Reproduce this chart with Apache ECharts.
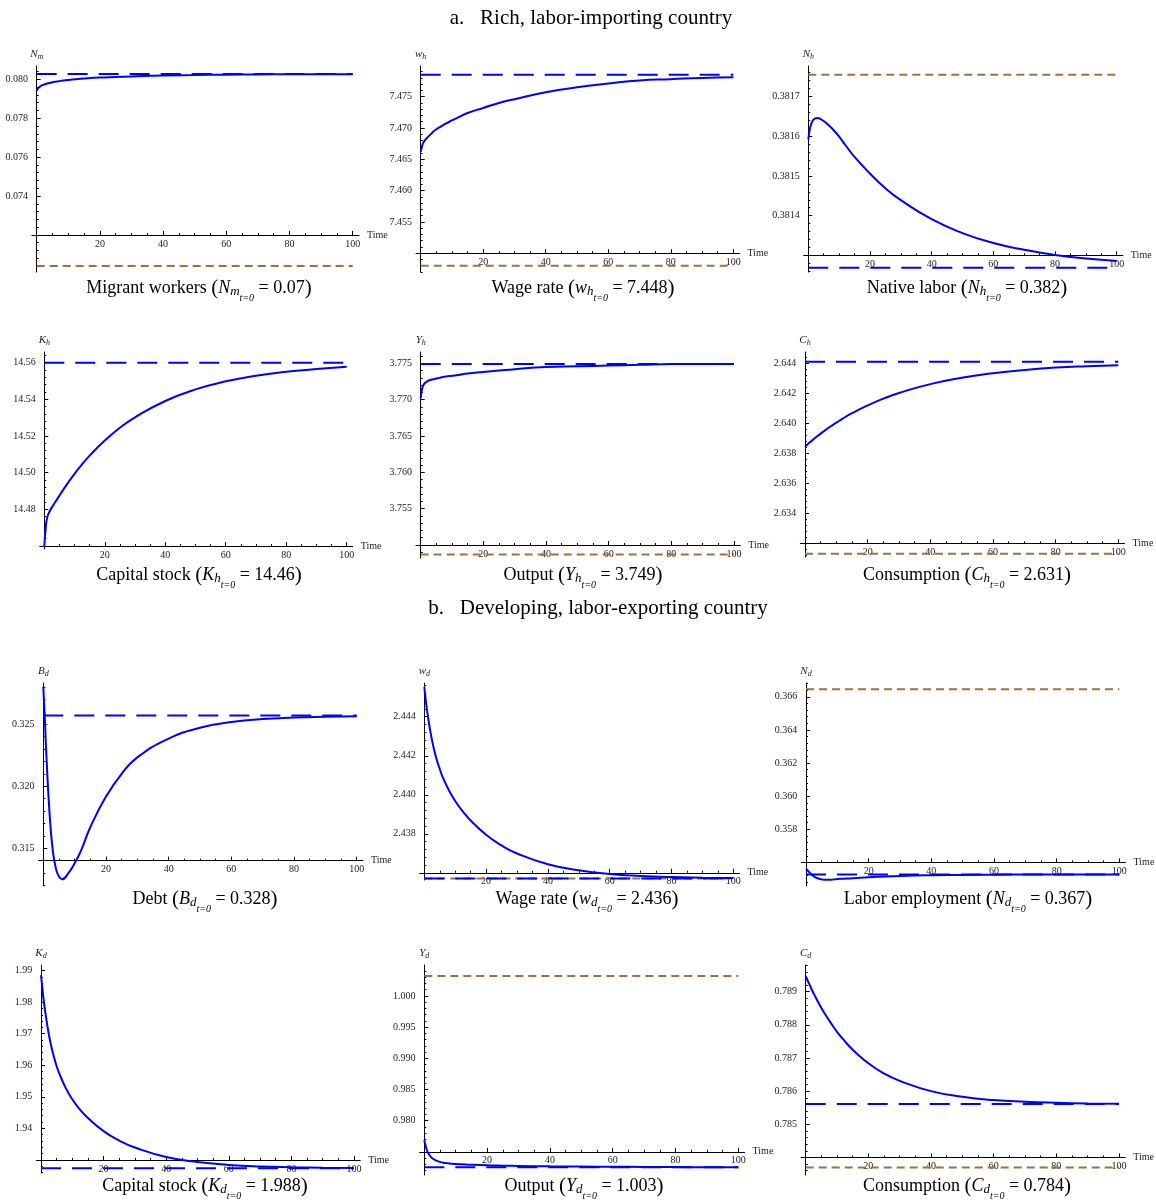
<!DOCTYPE html>
<html>
<head>
<meta charset="utf-8">
<script src="https://cdn.jsdelivr.net/npm/echarts@6/dist/echarts.min.js"></script>
<style>
  html, body { margin: 0; padding: 0; background: #fff; }
  #chart { width: 1156px; height: 1201px; }
</style>
</head>
<body>
<div id="chart"></div>
<script>
  /******************/
  //region    //data

  // common time grid for every transition path
  const time = [0, 0.5, 1, 2, 3, 4, 5, 6, 8, 10, 12, 15, 20, 25, 30, 40, 50, 60, 70, 80, 90, 100];
  const xTicks = [20, 40, 60, 80, 100];

  // a. rich, labor-importing country
  const nmPath = [0.07942, 0.07955, 0.07962, 0.07971, 0.07977, 0.07981, 0.07985, 0.07988, 0.07993, 0.07997, 0.08000, 0.08004, 0.08009, 0.08012, 0.08015, 0.08020, 0.08022, 0.08024, 0.08025, 0.08026, 0.08026, 0.08026];
  const whPath = [7.4662, 7.4672, 7.4678, 7.4684, 7.4689, 7.4694, 7.4698, 7.4701, 7.4707, 7.4712, 7.4717, 7.4724, 7.4732, 7.4740, 7.4746, 7.4757, 7.4765, 7.4771, 7.4776, 7.4778, 7.4780, 7.4781];
  const nhPath = [0.381592, 0.381618, 0.381632, 0.381644, 0.381646, 0.381643, 0.381638, 0.381632, 0.381617, 0.381599, 0.381578, 0.381548, 0.381506, 0.381469, 0.381439, 0.381391, 0.381356, 0.381331, 0.381314, 0.381301, 0.381292, 0.381286];
  const khPath = [14.4596, 14.4705, 14.4758, 14.4797, 14.4824, 14.4850, 14.4875, 14.4901, 14.4949, 14.4994, 14.5036, 14.5093, 14.5175, 14.5245, 14.5302, 14.5391, 14.5454, 14.5498, 14.5528, 14.5550, 14.5565, 14.5578];
  const yhPath = [3.7702, 3.7716, 3.7721, 3.7725, 3.7727, 3.7728, 3.7729, 3.7730, 3.7732, 3.7733, 3.7734, 3.7736, 3.7738, 3.7740, 3.7742, 3.7745, 3.7746, 3.7747, 3.7748, 3.7749, 3.7749, 3.7749];
  const chPath = [2.63844, 2.63853, 2.63863, 2.63881, 2.63898, 2.63915, 2.63931, 2.63947, 2.63977, 2.64004, 2.64031, 2.64067, 2.64119, 2.64164, 2.64202, 2.64261, 2.64303, 2.64333, 2.64355, 2.64371, 2.64380, 2.64386];

  // b. developing, labor-exporting country
  const bdPath = [0.32804, 0.32535, 0.32240, 0.31782, 0.31487, 0.31339, 0.31272, 0.31250, 0.31300, 0.31380, 0.31480, 0.31670, 0.31917, 0.32101, 0.32233, 0.32385, 0.32472, 0.32518, 0.32543, 0.32554, 0.32560, 0.32564];
  const wdPath = [2.44553, 2.44481, 2.44420, 2.44321, 2.44243, 2.44181, 2.44132, 2.44089, 2.44022, 2.43968, 2.43924, 2.43868, 2.43795, 2.43740, 2.43699, 2.43644, 2.43613, 2.43594, 2.43584, 2.43578, 2.43575, 2.43573];
  const ndPath = [0.35562, 0.35552, 0.35542, 0.35524, 0.35510, 0.35503, 0.35498, 0.35495, 0.35496, 0.35500, 0.35502, 0.35505, 0.35511, 0.35515, 0.35519, 0.35523, 0.35525, 0.35526, 0.35527, 0.35527, 0.35527, 0.35527];
  const kdPath = [1.98861, 1.98381, 1.97951, 1.97271, 1.96731, 1.96321, 1.95971, 1.95701, 1.95261, 1.94921, 1.94651, 1.94331, 1.93911, 1.93611, 1.93391, 1.93091, 1.92931, 1.92841, 1.92791, 1.92766, 1.92751, 1.92741];
  const ydPath = [0.97690, 0.97583, 0.97503, 0.97422, 0.97380, 0.97355, 0.97337, 0.97325, 0.97313, 0.97305, 0.97300, 0.97292, 0.97283, 0.97278, 0.97274, 0.97267, 0.97263, 0.97260, 0.97257, 0.97255, 0.97253, 0.97251];
  const cdPath = [0.78947, 0.78936, 0.78926, 0.78905, 0.78886, 0.78868, 0.78851, 0.78835, 0.78806, 0.78779, 0.78756, 0.78725, 0.78684, 0.78653, 0.78631, 0.78600, 0.78583, 0.78573, 0.78568, 0.78565, 0.78563, 0.78562];

  // blue long-dashed = new steady state, brown short-dashed = initial level (null = not drawn)
  const steadyState = [0.08027, 7.4785, 0.381269, 14.560, 3.7749, 2.6441, 0.3257, 2.43571, 0.35527, 1.92731, 0.97251, 0.78561];
  const initialLevel = [0.0704, 7.448, 0.381755, null, 3.7487, 2.6313, null, 2.43571, 0.36646, null, 1.00321, 0.7837];

  const yTickLabels = [
    ['0.074', '0.076', '0.078', '0.080'],
    ['7.455', '7.460', '7.465', '7.470', '7.475'],
    ['0.3814', '0.3815', '0.3816', '0.3817'],
    ['14.48', '14.50', '14.52', '14.54', '14.56'],
    ['3.755', '3.760', '3.765', '3.770', '3.775'],
    ['2.634', '2.636', '2.638', '2.640', '2.642', '2.644'],
    ['0.315', '0.320', '0.325'],
    ['2.438', '2.440', '2.442', '2.444'],
    ['0.358', '0.360', '0.362', '0.364', '0.366'],
    ['1.94', '1.95', '1.96', '1.97', '1.98', '1.99'],
    ['0.980', '0.985', '0.990', '0.995', '1.000'],
    ['0.785', '0.786', '0.787', '0.788', '0.789']
  ];

  //endregion

  /******************/
  //region    //layout

  // x0/x100: pixel of t=0 / t=100, top/bottom: y-axis extent, cross: where the time axis sits
  let panels = [
    {path: nmPath, sym: 'N', sub: 'm', name: 'Migrant workers', init: '0.07', x0: 36.7, x100: 352.7, top: 66, bottom: 272, yMin: 0.070093, yMax: 0.080684, cross: 0.072, capX: 199},
    {path: whPath, sym: 'w', sub: 'h', name: 'Wage rate', init: '7.448', x0: 420.7, x100: 733.3, top: 66, bottom: 272, yMin: 7.4470, yMax: 7.4799, cross: 7.450, capX: 583},
    {path: nhPath, sym: 'N', sub: 'h', name: 'Native labor', init: '0.382', x0: 808.3, x100: 1116.7, top: 66, bottom: 272, yMin: 0.381258, yMax: 0.381777, cross: 0.3813, capX: 967},
    {path: khPath, sym: 'K', sub: 'h', name: 'Capital stock', init: '14.46', x0: 44.3, x100: 346.7, top: 352, bottom: 549, yMin: 14.4584, yMax: 14.5658, cross: 14.46, capX: 199},
    {path: yhPath, sym: 'Y', sub: 'h', name: 'Output', init: '3.749', x0: 420.7, x100: 734, top: 352, bottom: 558, yMin: 3.74821, yMax: 3.77656, cross: 3.750, capX: 583},
    {path: chPath, sym: 'C', sub: 'h', name: 'Consumption', init: '2.631', x0: 805, x100: 1118.3, top: 352, bottom: 557, yMin: 2.63109, yMax: 2.64475, cross: 2.632, capX: 967},
    {path: bdPath, sym: 'B', sub: 'd', name: 'Debt', init: '0.328', x0: 43.3, x100: 356.7, top: 683, bottom: 886, yMin: 0.31196, yMax: 0.32833, cross: 0.314, capX: 205},
    {path: wdPath, sym: 'w', sub: 'd', name: 'Wage rate', init: '2.436', x0: 424.3, x100: 733.3, top: 683, bottom: 880, yMin: 2.43563, yMax: 2.44573, cross: 2.436, capX: 587},
    {path: ndPath, sym: 'N', sub: 'd', name: 'Labor employment', init: '0.367', x0: 806, x100: 1119.3, top: 683, bottom: 886, yMin: 0.35458, yMax: 0.36683, cross: 0.356, capX: 968},
    {path: kdPath, sym: 'K', sub: 'd', name: 'Capital stock', init: '1.988', x0: 41, x100: 354, top: 965, bottom: 1173, yMin: 1.92584, yMax: 1.9918, cross: 1.93, capX: 205},
    {path: ydPath, sym: 'Y', sub: 'd', name: 'Output', init: '1.003', x0: 424.3, x100: 738.3, top: 965, bottom: 1175, yMin: 0.97128, yMax: 1.00497, cross: 0.975, capX: 584},
    {path: cdPath, sym: 'C', sub: 'd', name: 'Consumption', init: '0.784', x0: 805.7, x100: 1119, top: 965, bottom: 1175, yMin: 0.78347, yMax: 0.789805, cross: 0.784, capX: 967}
  ];

  const captionY = [288, 575, 899, 1186];

  //endregion

  /******************/
  //region    //function

  const FONT = '"Liberation Serif", "Times New Roman", serif';
  const BLUE = '#0000ff';
  const BROWN = '#a2703c';
  const INK = '#222';

  function multiples(lo, hi, step) {
    let out = [];
    for (let k = Math.ceil(lo / step - 1e-9); k * step <= hi + step * 1e-6; k++) {
      out.push(Math.round(k * step * 1e10) / 1e10);
    }
    return out;
  }

  let grids = [], xAxis = [], yAxis = [], series = [], graphic = [];
  const xMin = -1.5, xMax = 102;

  panels.forEach((p, i) => {
    let ppu = (p.x100 - p.x0) / 100;
    let h = p.bottom - p.top;
    grids.push({left: p.x0 + xMin * ppu, top: p.top, width: (xMax - xMin) * ppu, height: h});

    // time axis sits at the crossing value, not at the bottom of the range
    let off = -(p.cross - p.yMin) / (p.yMax - p.yMin) * h;
    let labels = yTickLabels[i];
    let vals = labels.map(Number);
    let dec = labels[0].split('.')[1].length;
    let step = Math.round((vals[1] - vals[0]) * 1e10) / 1e10;

    xAxis.push({
      type: 'value', gridIndex: i, min: xMin, max: xMax, position: 'bottom', offset: off,
      axisLine: {onZero: false, lineStyle: {color: '#000', width: 1}},
      axisTick: {inside: true, length: 4, customValues: multiples(0, 100, 20), lineStyle: {color: '#000'}},
      axisLabel: {customValues: xTicks, fontFamily: FONT, fontSize: 10, color: INK, margin: 4},
      splitLine: {show: false},
      name: 'Time', nameLocation: 'end', nameGap: 8,
      nameTextStyle: {fontFamily: FONT, fontSize: 10, color: INK}
    });
    xAxis.push({
      type: 'value', gridIndex: i, min: xMin, max: xMax, position: 'bottom', offset: off,
      axisLine: {show: false, onZero: false},
      axisTick: {inside: true, length: 2, customValues: multiples(0, 100, 5), lineStyle: {color: '#000'}},
      axisLabel: {show: false},
      splitLine: {show: false}
    });

    yAxis.push({
      type: 'value', gridIndex: i, min: p.yMin, max: p.yMax, position: 'left',
      axisLine: {show: true, onZero: true, lineStyle: {color: '#000', width: 1}},
      axisTick: {inside: true, length: 4, customValues: multiples(p.yMin, p.yMax, step), lineStyle: {color: '#000'}},
      axisLabel: {customValues: vals, formatter: v => v.toFixed(dec), fontFamily: FONT, fontSize: 10, color: INK, margin: 4},
      splitLine: {show: false},
      name: '{v|' + p.sym + '}{s|' + p.sub + '}', nameLocation: 'end', nameGap: 5,
      nameTextStyle: {
        fontFamily: FONT, fontSize: 11, color: INK,
        rich: {
          v: {fontFamily: FONT, fontSize: 11, fontStyle: 'italic', color: INK},
          s: {fontFamily: FONT, fontSize: 8, fontStyle: 'italic', color: INK, padding: [6, 0, 0, 0]}
        }
      }
    });
    yAxis.push({
      type: 'value', gridIndex: i, min: p.yMin, max: p.yMax, position: 'left',
      axisLine: {show: false, onZero: true},
      axisTick: {inside: true, length: 2, customValues: multiples(p.yMin, p.yMax, step / 5), lineStyle: {color: '#000'}},
      axisLabel: {show: false},
      splitLine: {show: false}
    });

    let base = {type: 'line', xAxisIndex: 2 * i, yAxisIndex: 2 * i, symbol: 'none', silent: true, animation: false};
    if (initialLevel[i] != null) {
      series.push(Object.assign({}, base, {
        data: [[0, initialLevel[i]], [100, initialLevel[i]]], z: 3,
        lineStyle: {color: BROWN, width: 2, type: [8, 5]}
      }));
    }
    series.push(Object.assign({}, base, {
      data: [[0, steadyState[i]], [100, steadyState[i]]], z: 4,
      lineStyle: {color: BLUE, width: 2, type: [20, 11]}
    }));
    series.push(Object.assign({}, base, {
      data: time.map((t, k) => [t, p.path[k]]), z: 5,
      smooth: 0.5,
      lineStyle: {color: BLUE, width: 2}
    }));

    graphic.push({
      type: 'text', x: p.capX, y: captionY[Math.floor(i / 3)], silent: true,
      style: {
        text: '{t|' + p.name + ' }{p|(}{v|' + p.sym + '}{s|' + p.sub + '}{ss|t=0}{t| = ' + p.init + '}{p|)}',
        align: 'center', verticalAlign: 'middle', fontFamily: FONT, fontSize: 18, fill: '#000',
        rich: {
          t: {fontFamily: FONT, fontSize: 18, fill: '#000'},
          p: {fontFamily: FONT, fontSize: 21, fill: '#000'},
          v: {fontFamily: FONT, fontSize: 18, fontStyle: 'italic', fill: '#000'},
          s: {fontFamily: FONT, fontSize: 13, fontStyle: 'italic', fill: '#000', padding: [8, 0, 0, 0]},
          ss: {fontFamily: FONT, fontSize: 10, fontStyle: 'italic', fill: '#000', padding: [20, 0, 0, 0]}
        }
      }
    });
  });

  graphic.push({
    type: 'text', x: 591, y: 18, silent: true,
    style: {text: 'a.   Rich, labor-importing country', align: 'center', verticalAlign: 'middle', fontFamily: FONT, fontSize: 21, fill: '#000'}
  });
  graphic.push({
    type: 'text', x: 598, y: 608, silent: true,
    style: {text: 'b.   Developing, labor-exporting country', align: 'center', verticalAlign: 'middle', fontFamily: FONT, fontSize: 21, fill: '#000'}
  });

  let chart = echarts.init(document.getElementById('chart'), null, {renderer: 'canvas'});
  chart.setOption({
    animation: false,
    backgroundColor: '#fff',
    grid: grids,
    xAxis: xAxis,
    yAxis: yAxis,
    series: series,
    graphic: graphic
  });

  //endregion
</script>
</body>
</html>
